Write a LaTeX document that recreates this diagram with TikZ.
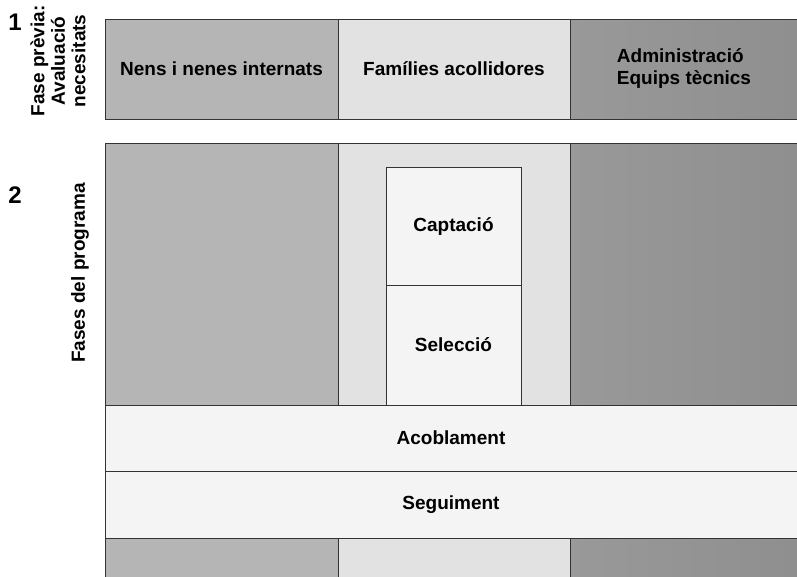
\documentclass[tikz,border=0pt]{standalone}
\usepackage{fontspec}
\setmainfont{Liberation Sans}
\usetikzlibrary{positioning}
\definecolor{nensgray}{gray}{0.71}
\definecolor{famgray}{gray}{0.885}
\definecolor{admleft}{gray}{0.60}
\definecolor{admright}{gray}{0.56}
\definecolor{boxwhite}{gray}{0.955}
\definecolor{edge}{gray}{0.2}

\begin{document}
\begin{tikzpicture}[x=1pt,y=-1pt,
    celltext/.style={align=center, font=\fontsize{19}{22}\selectfont\bfseries},
    cell/.style={celltext, draw=edge, line width=0.7pt, inner sep=0pt, outer sep=0pt,
        anchor=north west},
    nenscell/.style={cell, fill=nensgray, minimum width=233pt},
    famcell/.style={cell, fill=famgray, minimum width=232pt},
    admcell/.style={cell, left color=admleft, right color=admright, minimum width=228pt},
    phasebox/.style={cell, fill=boxwhite},
    sidenum/.style={font=\fontsize{24}{24}\selectfont\bfseries},
    sidelbl/.style={rotate=90, align=center, font=\fontsize{19}{20.5}\selectfont\bfseries}]
        \clip (0,0) rectangle (797,576);
        \fill[white] (0,0) rectangle (797,576);

        % columns of the three bands
        \foreach \y/\h/\r in {19/100/1, 143/262/2, 538/45/3} {
            \node[nenscell, minimum height=\h pt] (nens\r) at (105,\y) {};
            \node[famcell, minimum height=\h pt] (fam\r) at (338,\y) {};
            \node[admcell, minimum height=\h pt] (adm\r) at (570,\y) {};
        }
        \node[celltext] at (nens1) {Nens i nenes internats};
        \node[celltext] at (fam1) {Famílies acollidores};
        \node[celltext, align=left] at (adm1) {Administració\\Equips tècnics};

        \node[phasebox, minimum width=135pt, minimum height=118pt] (captacio) at (386,167) {Captació};
        \node[phasebox, minimum width=135pt, minimum height=120pt] (seleccio) at (386,285) {Selecció};
        \node[phasebox, minimum width=700pt, minimum height=66pt] (acoblament) at (105,405) {};
        \node[phasebox, minimum width=700pt, minimum height=67pt] (seguiment) at (105,471) {};
        \node[celltext] at (451,438) {Acoblament};
        \node[celltext] at (451,504.5) {Seguiment};

        \node[sidenum] (num1) at (15,22) {1};
        \node[sidelbl] (lbl1) at (58,61) {Fase prèvia:\\Avaluació\\necesitats};
        \node[sidenum] (num2) at (15,195) {2};
        \node[sidelbl] (lbl2) at (80,273) {Fases del programa};
\end{tikzpicture}
\end{document}
